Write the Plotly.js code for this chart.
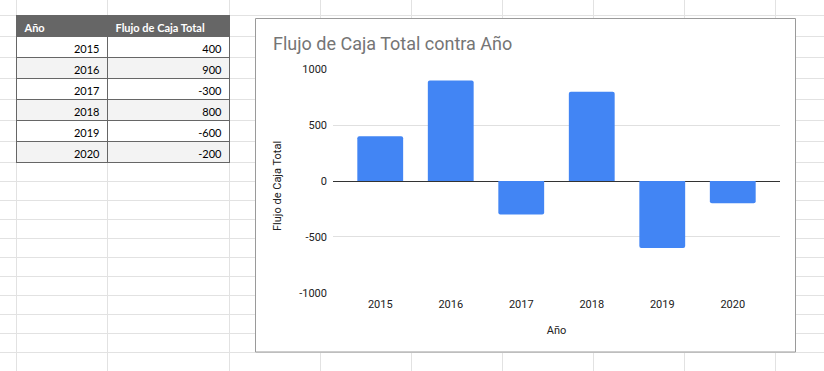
<!DOCTYPE html>
<html>
<head>
<meta charset="utf-8">
<script src="https://cdn.plot.ly/plotly-3.0.1.min.js"></script>
<style>
  html, body { margin: 0; padding: 0; background: #ffffff; }
  #chart { width: 824px; height: 371px; }
</style>
</head>
<body>
<div id="chart"></div>
<script>
// ---- data ----
const years = ['2015', '2016', '2017', '2018', '2019', '2020'];
const flujo = [400, 900, -300, 800, -600, -200];
const tableHeaders = ['Año', 'Flujo de Caja Total'];
const yTickVals = [-1000, -500, 0, 500, 1000];
const yTickText = ['-1000', '-500', '0', '500', '1000'];
const chartTitle = 'Flujo de Caja Total contra Año';
const xTitle = 'Año';
const yTitle = 'Flujo de Caja Total';

// ---- geometry helpers (pixel -> paper) ----
const W = 824, H = 371;
const px = v => v / W;
const py = v => 1 - v / H;

// spreadsheet grid
const colLines = [16, 107, 229, 320, 411, 502, 593, 684, 775];
const rowLines = [15, 36, 57, 78, 99, 120, 141, 162];
for (let y = 181; y <= H; y += 19) rowLines.push(y);

const shapes = [];
colLines.forEach(x => shapes.push({
  type: 'line', xref: 'paper', yref: 'paper', layer: 'below',
  x0: px(x + 0.5), x1: px(x + 0.5), y0: 0, y1: 1,
  line: { color: '#e2e2e2', width: 1 }
}));
rowLines.forEach(y => shapes.push({
  type: 'line', xref: 'paper', yref: 'paper', layer: 'below',
  x0: 0, x1: 1, y0: py(y + 0.5), y1: py(y + 0.5),
  line: { color: '#e2e2e2', width: 1 }
}));
// chart card
shapes.push({
  type: 'rect', xref: 'paper', yref: 'paper', layer: 'below',
  x0: px(255.5), x1: px(795.5), y0: py(352), y1: py(18.5),
  fillcolor: '#ffffff', line: { color: '#9a9a9a', width: 1 }
});

const rowFill = years.map((_, i) => (i % 2 === 0 ? '#ffffff' : '#f3f3f3'));

const traces = [
  {
    type: 'table',
    domain: { x: [px(16.5), px(229.5)], y: [py(163.5), py(15.5)] },
    columnwidth: [91, 122],
    header: {
      values: tableHeaders,
      align: 'left',
      height: 21,
      fill: { color: '#666666' },
      line: { color: '#666666', width: 1 },
      font: { family: 'Lato, Carlito, sans-serif', size: 11, color: '#ffffff', weight: 'bold' }
    },
    cells: {
      values: [years, flujo.map(String)],
      align: 'right',
      height: 21,
      fill: { color: [rowFill, rowFill] },
      line: { color: '#666666', width: 1 },
      font: { family: 'Lato, Carlito, sans-serif', size: 11, color: '#000000' }
    },
    hoverinfo: 'skip'
  },
  {
    type: 'bar',
    x: years,
    y: flujo,
    marker: { color: '#4285F4', cornerradius: 2, line: { width: 0 } },
    hoverinfo: 'skip'
  }
];

const layout = {
  width: W, height: H,
  margin: { l: 0, r: 0, t: 0, b: 0, pad: 0 },
  paper_bgcolor: 'rgba(0,0,0,0)',
  plot_bgcolor: 'rgba(0,0,0,0)',
  showlegend: false,
  bargap: 0.35,
  title: {
    text: chartTitle,
    xref: 'paper', yref: 'paper',
    x: px(273), xanchor: 'left',
    y: py(44), yanchor: 'middle',
    font: { family: 'Roboto, Arial, sans-serif', size: 18, color: '#757575' }
  },
  xaxis: {
    type: 'category',
    domain: [px(333), px(780)],
    range: [-0.67, 5.67],
    showgrid: false, zeroline: false, showline: false,
    ticks: '',
    ticklabelstandoff: 3,
    tickfont: { family: 'Roboto, Arial, sans-serif', size: 11, color: '#222222' },
    fixedrange: true,
    title: {
      text: xTitle,
      standoff: 16,
      font: { family: 'Roboto, Arial, sans-serif', size: 11, color: '#222222' }
    }
  },
  yaxis: {
    domain: [py(292.7), py(69.3)],
    range: [-1000, 1000],
    tickmode: 'array',
    tickvals: yTickVals,
    ticktext: yTickText,
    showgrid: true, gridcolor: '#e0e0e0', gridwidth: 1,
    zeroline: true, zerolinecolor: '#333333', zerolinewidth: 1,
    showline: false,
    ticks: '',
    ticklabelstandoff: 5,
    tickfont: { family: 'Roboto, Arial, sans-serif', size: 11, color: '#222222' },
    fixedrange: true
  },
  annotations: [{
    text: yTitle,
    xref: 'paper', yref: 'paper',
    x: px(277.5), y: py(186.5),
    xanchor: 'center', yanchor: 'middle',
    textangle: -90, showarrow: false,
    font: { family: 'Roboto, Arial, sans-serif', size: 11, color: '#222222' }
  }],
  shapes: shapes
};

Plotly.newPlot('chart', traces, layout, { displayModeBar: false, staticPlot: true });
</script>
</body>
</html>
